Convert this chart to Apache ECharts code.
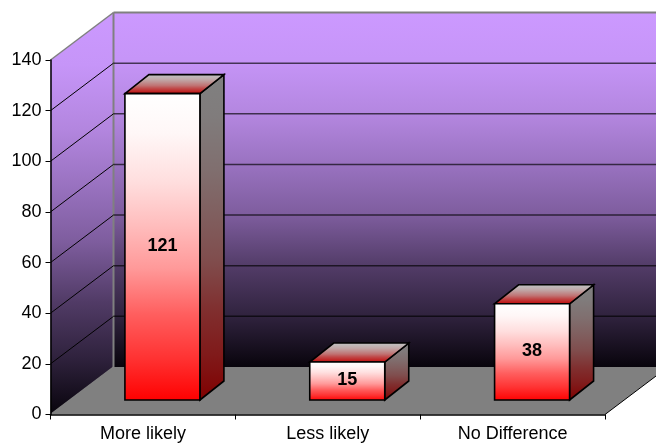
<!DOCTYPE html>
<html><head><meta charset="utf-8">
<style>html,body{margin:0;padding:0;background:#fff}#c{width:656px;height:445px}</style>
<script src="https://cdn.jsdelivr.net/npm/echarts@6/dist/echarts.min.js"></script>
</head><body><div id="c"></div>
<script>
const categories = ['More likely', 'Less likely', 'No Difference'];
const seriesValues = [121, 15, 38];
const yTicks = [20, 40, 60, 80, 100, 120, 140];

const wallDx = 63, wallDy = -47.5;      // depth of the whole 3D box
const gapDx = 19.5, gapDy = -14.5;      // bar distance from the front of the floor
const barDx = 24, barDy = -19;          // depth of a bar
const barWidth = 75;
const G = echarts.graphic;
// light falloff of the source's gradient fills: [position, share of the top colour]
const falloff = [[0, 1], [0.13, 0.97], [0.29, 0.87], [0.43, 0.74], [0.57, 0.6], [0.72, 0.37], [0.86, 0.2], [1, 0]];
const mix = (a, b, f) => 'rgb(' + a.map((v, i) => Math.round(v * f + b[i] * (1 - f))).join(',') + ')';
const vgrad = (top, bottom) => new G.LinearGradient(0, 0, 0, 1, falloff.map(s => ({offset: s[0], color: mix(top, bottom, s[1])})));
const poly = (points, style) => ({type: 'polygon', shape: {points}, style});
const seg = (a, b, stroke, lineWidth) => ({type: 'line', shape: {x1: a[0], y1: a[1], x2: b[0], y2: b[1]}, style: {stroke, lineWidth, fill: null}});

const chart = echarts.init(document.getElementById('c'), null, {renderer: 'canvas'});
chart.setOption({
  animation: false,
  backgroundColor: '#fff',
  grid: {left: 50.5, right: 51, top: 60, bottom: 30.5, containLabel: false},
  xAxis: {
    type: 'category', data: categories, z: 6,
    axisLine: {lineStyle: {color: '#000', width: 1.5}},
    axisTick: {show: true, length: 5, lineStyle: {color: '#000', width: 1}, alignWithLabel: false},
    axisLabel: {color: '#000', fontFamily: 'Liberation Sans', fontSize: 18, margin: 11},
    splitLine: {show: false}
  },
  yAxis: {
    type: 'value', min: 0, max: 140, interval: 20, z: 6,
    axisLine: {show: true, lineStyle: {color: '#000', width: 1.5}},
    axisTick: {show: true, length: 5, lineStyle: {color: '#000', width: 1}},
    axisLabel: {color: '#000', fontFamily: 'Liberation Sans', fontSize: 18, margin: 9},
    splitLine: {show: false}
  },
  series: [
    {
      type: 'custom', z: 1, silent: true, data: [[0, 0]], encode: {x: 0, y: 1},
      renderItem(params, api) {
        const c = params.coordSys;
        const l = c.x, r = c.x + c.width, t = c.y, b = c.y + c.height;
        const purple = [204, 153, 255], black = [8, 4, 12];
        return {type: 'group', children: [
          poly([[l + wallDx, t + wallDy], [r + wallDx, t + wallDy], [r + wallDx, b + wallDy], [l + wallDx, b + wallDy]], {fill: vgrad(purple, black)}),
          poly([[l, t], [l + wallDx, t + wallDy], [l + wallDx, b + wallDy], [l, b]], {fill: vgrad(purple, black)}),
          poly([[l, b], [r, b], [r + wallDx, b + wallDy], [l + wallDx, b + wallDy]], {fill: '#808080'}),
          seg([l, b], [l + wallDx, b + wallDy], '#808080', 1.5),
          seg([l, t], [l + wallDx, t + wallDy], '#808080', 1.5),
          seg([l + wallDx, t + wallDy], [r + wallDx, t + wallDy], '#808080', 2),
          seg([l + wallDx, t + wallDy], [l + wallDx, b + wallDy], '#808080', 2),
          seg([r, b], [r + wallDx, b + wallDy], '#000', 1)
        ]};
      }
    },
    {
      type: 'custom', z: 2, silent: true,
      data: yTicks.slice(0, -1).map(v => [0, v]), encode: {x: 0, y: 1},
      renderItem(params, api) {
        const c = params.coordSys;
        const y = api.coord([0, api.value(1)])[1];
        const l = c.x, r = c.x + c.width;
        return {type: 'group', children: [
          seg([l, y], [l + wallDx, y + wallDy], '#000', 1),
          seg([l + wallDx, y + wallDy], [r + wallDx, y + wallDy], 'rgba(0,0,0,0.65)', 1.5)
        ]};
      }
    },
    {
      type: 'custom', z: 3, silent: true,
      data: seriesValues.map((v, i) => [i, v]),
      encode: {x: 0, y: 1},
      renderItem(params, api) {
        const topP = api.coord([api.value(0), api.value(1)]);
        const baseP = api.coord([api.value(0), 0]);
        const x0 = topP[0] + gapDx - barWidth / 2, x1 = x0 + barWidth;
        const yt = topP[1] + gapDy, yb = baseP[1] + gapDy;
        const border = {stroke: '#000', lineWidth: 1.6, lineJoin: 'miter'};
        return {type: 'group', children: [
          poly([[x1, yt], [x1 + barDx, yt + barDy], [x1 + barDx, yb + barDy], [x1, yb]],
            Object.assign({fill: vgrad([128, 128, 128], [128, 0, 0])}, border)),
          poly([[x0, yt], [x1, yt], [x1 + barDx, yt + barDy], [x0 + barDx, yt + barDy]],
            Object.assign({fill: vgrad([192, 192, 192], [192, 0, 0])}, border)),
          poly([[x0, yt], [x1, yt], [x1, yb], [x0, yb]],
            Object.assign({fill: vgrad([255, 255, 255], [255, 0, 0])}, border)),
          {type: 'text', z2: 5, style: {
            x: (x0 + x1) / 2, y: (yt + yb) / 2 - 0.5, text: String(api.value(1)),
            align: 'center', verticalAlign: 'middle',
            fill: '#000', font: 'bold 18px "Liberation Sans"'}}
        ]};
      }
    }
  ]
});
</script></body></html>
